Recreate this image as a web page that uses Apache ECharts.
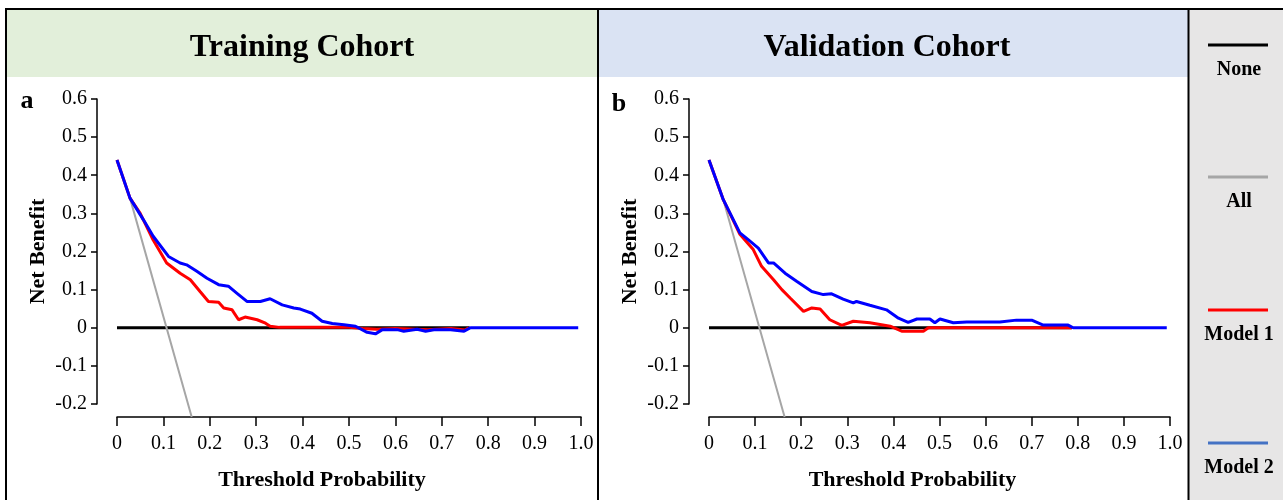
<!DOCTYPE html>
<html>
<head>
<meta charset="utf-8">
<script src="https://cdn.jsdelivr.net/npm/echarts@6/dist/echarts.min.js"></script>
<style>
  html, body { margin: 0; padding: 0; background: #fff; }
  #dca { width: 1283px; height: 500px; }
</style>
</head>
<body>
<div id="dca"></div>
<script>
// decision curve data, [threshold, net benefit]
const seriesNames = ["None", "All", "Model 1", "Model 2"];
const xTicks = [0, 0.1, 0.2, 0.3, 0.4, 0.5, 0.6, 0.7, 0.8, 0.9, 1.0];
const yTicks = [-0.2, -0.1, 0, 0.1, 0.2, 0.3, 0.4, 0.5, 0.6];

const trainNone = [[0, 0], [0.76, 0]];
const trainAll = [[0, 0.44], [0.028, 0.34], [0.161, -0.234]];
const trainModel1 = [
  [0, 0.44], [0.028, 0.34], [0.05, 0.30], [0.078, 0.23], [0.107, 0.17], [0.136, 0.143],
  [0.158, 0.126], [0.179, 0.095], [0.197, 0.069], [0.219, 0.067], [0.23, 0.052], [0.248, 0.047],
  [0.262, 0.021], [0.276, 0.028], [0.302, 0.021], [0.32, 0.012], [0.33, 0.004], [0.35, 0.001],
  [0.5, 0.001], [0.53, -0.002], [0.56, -0.004], [0.6, -0.002], [0.67, -0.005], [0.72, -0.002],
  [0.75, -0.006], [0.758, 0]
];
const trainModel2 = [
  [0, 0.44], [0.028, 0.34], [0.057, 0.283], [0.078, 0.24], [0.111, 0.187], [0.136, 0.17],
  [0.15, 0.165], [0.172, 0.148], [0.194, 0.13], [0.219, 0.113], [0.24, 0.109], [0.258, 0.091],
  [0.28, 0.069], [0.309, 0.069], [0.33, 0.076], [0.356, 0.06], [0.381, 0.052], [0.395, 0.049],
  [0.42, 0.038], [0.442, 0.017], [0.464, 0.011], [0.489, 0.008], [0.514, 0.004], [0.539, -0.012],
  [0.557, -0.016], [0.572, -0.005], [0.604, -0.005], [0.618, -0.009], [0.647, -0.004],
  [0.665, -0.009], [0.683, -0.005], [0.719, -0.005], [0.748, -0.009], [0.762, 0], [0.994, 0]
];

const validNone = [[0, 0], [0.787, 0]];
const validAll = [[0, 0.44], [0.031, 0.336], [0.164, -0.234]];
const validModel1 = [
  [0, 0.44], [0.031, 0.336], [0.067, 0.245], [0.096, 0.205], [0.114, 0.161], [0.14, 0.126],
  [0.158, 0.1], [0.176, 0.078], [0.205, 0.043], [0.223, 0.052], [0.241, 0.049], [0.262, 0.021],
  [0.288, 0.006], [0.313, 0.017], [0.349, 0.013], [0.393, 0.004], [0.418, -0.009],
  [0.465, -0.009], [0.476, 0], [0.787, 0]
];
const validModel2 = [
  [0, 0.44], [0.031, 0.336], [0.067, 0.249], [0.085, 0.231], [0.107, 0.209], [0.129, 0.17],
  [0.14, 0.17], [0.165, 0.143], [0.19, 0.122], [0.223, 0.095], [0.248, 0.087], [0.266, 0.089],
  [0.291, 0.075], [0.313, 0.065], [0.32, 0.069], [0.349, 0.059], [0.385, 0.047], [0.411, 0.025],
  [0.432, 0.014], [0.451, 0.023], [0.479, 0.023], [0.49, 0.013], [0.501, 0.023], [0.53, 0.013],
  [0.559, 0.015], [0.631, 0.015], [0.667, 0.02], [0.7, 0.02], [0.725, 0.007], [0.779, 0.007],
  [0.79, 0], [0.993, 0]
];

const serif = "'Liberation Serif', 'Times New Roman', serif";
const lineColors = ["#000000", "#a6a6a6", "#ff0000", "#0000ff"];
const legendColors = ["#000000", "#a6a6a6", "#ff0000", "#4472c4"];

function fmt(v) {
  return Math.abs(v) < 1e-9 ? "0" : v.toFixed(1);
}

function makeXAxis(idx) {
  return {
    gridIndex: idx,
    type: "value",
    min: xTicks[0],
    max: xTicks[xTicks.length - 1],
    interval: 0.1,
    offset: 13,
    name: "Threshold Probability",
    nameLocation: "middle",
    nameGap: 52,
    nameTextStyle: {
      fontFamily: serif, fontWeight: "bold", fontSize: 22, color: "#000",
      padding: [0, 54, 0, 0]
    },
    axisLine: { onZero: false, lineStyle: { color: "#000", width: 1.5 } },
    axisTick: { length: 9, lineStyle: { color: "#000", width: 1.5 } },
    axisLabel: { fontFamily: serif, fontSize: 20, color: "#000", margin: 17, formatter: fmt },
    splitLine: { show: false }
  };
}

function makeYAxis(idx) {
  return {
    gridIndex: idx,
    type: "value",
    min: yTicks[0],
    max: yTicks[yTicks.length - 1],
    interval: 0.1,
    offset: 20,
    name: "Net Benefit",
    nameLocation: "middle",
    nameGap: 48,
    nameTextStyle: { fontFamily: serif, fontWeight: "bold", fontSize: 22, color: "#000" },
    axisLine: { show: true, onZero: false, lineStyle: { color: "#000", width: 1.5 } },
    axisTick: { show: true, length: 6, lineStyle: { color: "#000", width: 1.5 } },
    axisLabel: { fontFamily: serif, fontSize: 20, color: "#000", margin: 10, formatter: fmt },
    splitLine: { show: false }
  };
}

function makeSeries(idx, sets) {
  return sets.map(function (d, i) {
    return {
      name: seriesNames[i],
      type: "line",
      xAxisIndex: idx,
      yAxisIndex: idx,
      data: d,
      showSymbol: false,
      symbol: "none",
      clip: i !== 1,
      z: 2 + i,
      lineStyle: { color: lineColors[i], width: i === 1 ? 2 : 3 },
      emphasis: { disabled: true }
    };
  });
}

function text(str, x, y, size, extra) {
  return Object.assign({
    type: "text",
    x: x,
    y: y,
    z: 20,
    style: {
      text: str,
      font: "bold " + size + "px " + serif,
      fill: "#000",
      textAlign: "center",
      textVerticalAlign: "middle"
    }
  }, extra || {});
}

// legend drawn by hand: line above the label
let legendItems = [];
const legendY = [45, 177, 310, 443];
for (let i = 0; i < seriesNames.length; i++) {
  legendItems.push({
    type: "line", z: 20,
    shape: { x1: 1208, y1: legendY[i], x2: 1268, y2: legendY[i] },
    style: { stroke: legendColors[i], lineWidth: 3 }
  });
  legendItems.push(text(seriesNames[i], 1239, legendY[i] + 25, 20));
}

let chart = echarts.init(document.getElementById("dca"), null, { renderer: "canvas" });
let option = {
  animation: false,
  backgroundColor: "#ffffff",
  grid: [
    { left: 117, top: 99, width: 464, height: 305 },
    { left: 709, top: 99, width: 461, height: 305 }
  ],
  xAxis: [makeXAxis(0), makeXAxis(1)],
  yAxis: [makeYAxis(0), makeYAxis(1)],
  series: makeSeries(0, [trainNone, trainAll, trainModel1, trainModel2])
    .concat(makeSeries(1, [validNone, validAll, validModel1, validModel2])),
  graphic: [
    { type: "rect", z: -5, shape: { x: 7, y: 10, width: 591, height: 67 }, style: { fill: "#e2efda" } },
    { type: "rect", z: -5, shape: { x: 599, y: 10, width: 589, height: 67 }, style: { fill: "#dae3f3" } },
    { type: "rect", z: -5, shape: { x: 1189, y: 10, width: 100, height: 500 }, style: { fill: "#e7e6e6" } },
    { type: "rect", z: 10, shape: { x: 6, y: 9, width: 1300, height: 500 }, style: { fill: null, stroke: "#000", lineWidth: 2 } },
    { type: "line", z: 10, shape: { x1: 598, y1: 9, x2: 598, y2: 500 }, style: { stroke: "#000", lineWidth: 2 } },
    { type: "line", z: 10, shape: { x1: 1188.5, y1: 9, x2: 1188.5, y2: 500 }, style: { stroke: "#000", lineWidth: 2 } },
    text("Training Cohort", 302, 48, 32),
    text("Validation Cohort", 887, 48, 32),
    text("a", 27, 101, 26),
    text("b", 619, 104, 26)
  ].concat(legendItems)
};
chart.setOption(option);
</script>
</body>
</html>
